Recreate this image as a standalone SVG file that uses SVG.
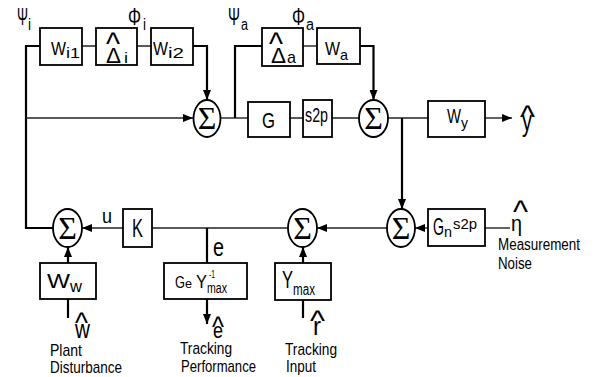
<svg xmlns="http://www.w3.org/2000/svg" width="598" height="377" viewBox="0 0 598 377">
<defs>
<marker id="ah" markerUnits="userSpaceOnUse" markerWidth="10" markerHeight="8" refX="10" refY="4" orient="auto">
<path d="M0,0 L10,4 L0,8 z" fill="#000"/>
</marker>
<style>
.b{fill:#fff;stroke:#000;stroke-width:1.8}
.s{fill:#fff;stroke:#000;stroke-width:1.8}
.v{fill:none;stroke:#000;stroke-width:2.2}
.h{fill:none;stroke:#222;stroke-width:1.4}
.t{font-family:"Liberation Sans",Arial,sans-serif;fill:#000}
.g{font-family:"Liberation Serif","Times New Roman",serif;font-size:32px;fill:#000}
</style>
</defs>
<rect width="598" height="377" fill="#fff"/>
<g id="connectors">
<path class="v" d="M40,46 H26 V228 H53"/>
<path class="h" d="M26,118 H193" marker-end="url(#ah)"/>
<path class="h" d="M82,46 H96 M137,46 H151"/>
<path class="v" d="M193,46 H207 V100" marker-end="url(#ah)"/>
<path class="h" d="M220.5,118 H248"/>
<path class="v" d="M235,118 V46 H262"/>
<path class="h" d="M303,46 H317"/>
<path class="v" d="M360,46 H373.5 V100" marker-end="url(#ah)"/>
<path class="h" d="M290,118 H303 M332,118 H359"/>
<path class="h" d="M388,118 H428"/>
<path class="v" d="M402,118 V209" marker-end="url(#ah)"/>
<path class="h" d="M485,118 H512" marker-end="url(#ah)"/>
<path class="h" d="M428,228 H415" marker-end="url(#ah)"/>
<path class="h" d="M510,228 H485"/>
<path class="h" d="M387,228 H317" marker-end="url(#ah)"/>
<path class="h" d="M288,228 H152"/>
<path class="v" d="M207,228 V263"/>
<path class="v" d="M207,299 V324" marker-end="url(#ah)"/>
<path class="h" d="M123,228 H82" marker-end="url(#ah)"/>
<path class="v" d="M68,263 V247" marker-end="url(#ah)"/>
<path class="v" d="M68,299 V318"/>
<path class="v" d="M303,263 V247" marker-end="url(#ah)"/>
<path class="v" d="M303,300 V318"/>
</g>
<g id="labels-top">
<text class="t"><tspan x="17" y="25" font-size="24" textLength="11" lengthAdjust="spacingAndGlyphs">Ψ</tspan><tspan x="28" y="30" font-size="16" textLength="3" lengthAdjust="spacingAndGlyphs">i</tspan></text>
<text class="t"><tspan x="128" y="25" font-size="24" textLength="13" lengthAdjust="spacingAndGlyphs">Φ</tspan><tspan x="143" y="30" font-size="16" textLength="3" lengthAdjust="spacingAndGlyphs">i</tspan></text>
<text class="t"><tspan x="228" y="25" font-size="24" textLength="12" lengthAdjust="spacingAndGlyphs">Ψ</tspan><tspan x="241" y="30" font-size="16" textLength="7" lengthAdjust="spacingAndGlyphs">a</tspan></text>
<text class="t"><tspan x="292" y="25" font-size="24" textLength="13" lengthAdjust="spacingAndGlyphs">Φ</tspan><tspan x="306" y="30" font-size="16" textLength="8" lengthAdjust="spacingAndGlyphs">a</tspan></text>
</g>
<g id="Wi1">
<rect class="b" x="40" y="28" width="42" height="37"/>
<text class="t"><tspan x="51" y="55" font-size="19" textLength="15" lengthAdjust="spacingAndGlyphs">W</tspan><tspan x="66" y="58" font-size="15" textLength="14" lengthAdjust="spacingAndGlyphs">i1</tspan></text>
</g>
<g id="Delta_i">
<rect class="b" x="96" y="28" width="41" height="37"/>
<text class="t"><tspan x="106" y="54" font-size="31" textLength="14" lengthAdjust="spacingAndGlyphs">^</tspan><tspan x="106" y="63" font-size="22" textLength="15" lengthAdjust="spacingAndGlyphs">Δ</tspan><tspan x="124" y="63" font-size="15" textLength="4" lengthAdjust="spacingAndGlyphs">i</tspan></text>
</g>
<g id="Wi2">
<rect class="b" x="151" y="28" width="42" height="37"/>
<text class="t"><tspan x="153" y="55" font-size="19" textLength="15" lengthAdjust="spacingAndGlyphs">W</tspan><tspan x="168" y="58" font-size="15" textLength="16" lengthAdjust="spacingAndGlyphs">i2</tspan></text>
</g>
<g id="Delta_a">
<rect class="b" x="262" y="28" width="41" height="38"/>
<text class="t"><tspan x="269" y="54" font-size="31" textLength="14" lengthAdjust="spacingAndGlyphs">^</tspan><tspan x="271" y="63" font-size="22" textLength="15" lengthAdjust="spacingAndGlyphs">Δ</tspan><tspan x="287" y="63" font-size="17" textLength="9" lengthAdjust="spacingAndGlyphs">a</tspan></text>
</g>
<g id="Wa">
<rect class="b" x="317" y="28" width="43" height="36"/>
<text class="t"><tspan x="325" y="55" font-size="19" textLength="15" lengthAdjust="spacingAndGlyphs">W</tspan><tspan x="340" y="60" font-size="15" textLength="8" lengthAdjust="spacingAndGlyphs">a</tspan></text>
</g>
<g id="sum_i">
<ellipse class="s" cx="207" cy="118.5" rx="13.5" ry="18.5"/>
<text class="g" x="207" y="129" text-anchor="middle">Σ</text>
</g>
<g id="G">
<rect class="b" x="248" y="102" width="42" height="35"/>
<text class="t" x="262" y="128" font-size="22" textLength="13" lengthAdjust="spacingAndGlyphs">G</text>
</g>
<g id="s2p">
<rect class="b" x="303" y="100" width="29" height="37"/>
<text class="t" x="305" y="122" font-size="20" textLength="23" lengthAdjust="spacingAndGlyphs">s2p</text>
</g>
<g id="sum_a">
<ellipse class="s" cx="373.5" cy="118.5" rx="14.5" ry="18.5"/>
<text class="g" x="373.5" y="129" text-anchor="middle">Σ</text>
</g>
<g id="Wy">
<rect class="b" x="428" y="101" width="57" height="36"/>
<text class="t"><tspan x="447" y="123" font-size="20" textLength="14" lengthAdjust="spacingAndGlyphs">W</tspan><tspan x="461" y="128" font-size="15" textLength="7" lengthAdjust="spacingAndGlyphs">y</tspan></text>
</g>
<g id="y_out">
<text class="t"><tspan x="520" y="127" font-size="31" textLength="15" lengthAdjust="spacingAndGlyphs">^</tspan><tspan x="522" y="131" font-size="30" textLength="10" lengthAdjust="spacingAndGlyphs">y</tspan></text>
</g>
<g id="sum_u">
<ellipse class="s" cx="67.5" cy="228" rx="14.5" ry="19"/>
<text class="g" x="67.5" y="239" text-anchor="middle">Σ</text>
</g>
<g id="K">
<rect class="b" x="123" y="209" width="29" height="38"/>
<text class="t" x="132" y="237" font-size="25" textLength="11" lengthAdjust="spacingAndGlyphs">K</text>
</g>
<text class="t" x="102" y="223" font-size="21" textLength="10" lengthAdjust="spacingAndGlyphs">u</text>
<text class="t" x="213" y="256" font-size="26" textLength="11" lengthAdjust="spacingAndGlyphs">e</text>
<g id="sum_e">
<ellipse class="s" cx="302.5" cy="228" rx="14.5" ry="19"/>
<text class="g" x="302.5" y="239" text-anchor="middle">Σ</text>
</g>
<g id="sum_n">
<ellipse class="s" cx="401" cy="228" rx="14" ry="19"/>
<text class="g" x="401" y="239" text-anchor="middle">Σ</text>
</g>
<g id="Gn">
<rect class="b" x="428" y="209" width="57" height="37"/>
<text class="t"><tspan x="433" y="235" font-size="24" textLength="11" lengthAdjust="spacingAndGlyphs">G</tspan><tspan x="444" y="237" font-size="15" textLength="8" lengthAdjust="spacingAndGlyphs">n</tspan><tspan x="453" y="229" font-size="15" textLength="24" lengthAdjust="spacingAndGlyphs">s2p</tspan></text>
</g>
<g id="eta_in">
<text class="t"><tspan x="513" y="222" font-size="31" textLength="15" lengthAdjust="spacingAndGlyphs">^</tspan><tspan x="511" y="231" font-size="22" textLength="11" lengthAdjust="spacingAndGlyphs">η</tspan></text>
<text class="t" x="498" y="250" font-size="16" textLength="82" lengthAdjust="spacingAndGlyphs">Measurement</text>
<text class="t" x="498" y="269" font-size="17" textLength="34" lengthAdjust="spacingAndGlyphs">Noise</text>
</g>
<g id="Ww">
<rect class="b" x="40" y="263" width="56" height="36"/>
<text class="t"><tspan x="47" y="288" font-size="21" textLength="23" lengthAdjust="spacingAndGlyphs">W</tspan><tspan x="70" y="292" font-size="16" textLength="12" lengthAdjust="spacingAndGlyphs">w</tspan></text>
</g>
<g id="w_in">
<text class="t"><tspan x="75" y="333" font-size="30" textLength="13" lengthAdjust="spacingAndGlyphs">^</tspan><tspan x="75" y="338" font-size="25" textLength="15" lengthAdjust="spacingAndGlyphs">w</tspan></text>
<text class="t" x="50" y="356" font-size="17" textLength="32" lengthAdjust="spacingAndGlyphs">Plant</text>
<text class="t" x="50" y="373" font-size="17" textLength="72" lengthAdjust="spacingAndGlyphs">Disturbance</text>
</g>
<g id="GeYmax">
<rect class="b" x="164" y="263" width="83" height="36"/>
<text class="t"><tspan x="175" y="288" font-size="16" textLength="10" lengthAdjust="spacingAndGlyphs">G</tspan><tspan x="185" y="288" font-size="13" textLength="7" lengthAdjust="spacingAndGlyphs">e</tspan><tspan x="196" y="288" font-size="18" textLength="11" lengthAdjust="spacingAndGlyphs">Y</tspan><tspan x="209" y="278" font-size="10" textLength="6" lengthAdjust="spacingAndGlyphs">-1</tspan><tspan x="207" y="293" font-size="14" textLength="20" lengthAdjust="spacingAndGlyphs">max</tspan></text>
</g>
<g id="e_out">
<text class="t"><tspan x="212" y="337" font-size="29" textLength="12" lengthAdjust="spacingAndGlyphs">^</tspan><tspan x="213" y="338" font-size="22" textLength="10" lengthAdjust="spacingAndGlyphs">e</tspan></text>
<text class="t" x="180" y="354" font-size="17" textLength="52" lengthAdjust="spacingAndGlyphs">Tracking</text>
<text class="t" x="181" y="372" font-size="17" textLength="75" lengthAdjust="spacingAndGlyphs">Performance</text>
</g>
<g id="Ymax">
<rect class="b" x="275" y="263" width="56" height="37"/>
<text class="t"><tspan x="282" y="288" font-size="23" textLength="11" lengthAdjust="spacingAndGlyphs">Y</tspan><tspan x="293" y="295" font-size="16" textLength="22" lengthAdjust="spacingAndGlyphs">max</tspan></text>
</g>
<g id="r_in">
<text class="t"><tspan x="310" y="331" font-size="30" textLength="15" lengthAdjust="spacingAndGlyphs">^</tspan><tspan x="313" y="335" font-size="26" textLength="8" lengthAdjust="spacingAndGlyphs">r</tspan></text>
<text class="t" x="285" y="355" font-size="17" textLength="52" lengthAdjust="spacingAndGlyphs">Tracking</text>
<text class="t" x="286" y="372" font-size="17" textLength="30" lengthAdjust="spacingAndGlyphs">Input</text>
</g>
</svg>
